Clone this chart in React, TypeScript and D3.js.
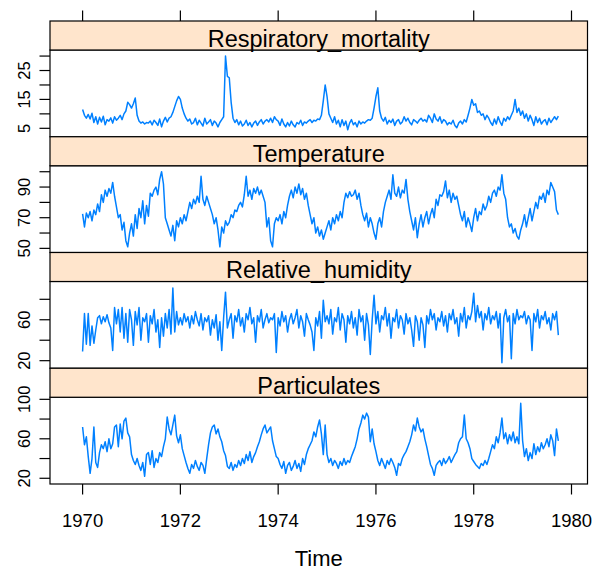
import React from "react";
import * as d3 from "d3";

// ---- data: biweekly readings, 1970.0 onward (26 per year) ----
const respiratory: number[] = [
  11.5, 9.5, 8.5, 9.8, 8.2, 10.2, 7.0, 9.0, 6.5, 8.8, 7.2, 9.2, 6.2, 8.0, 7.5, 8.6, 6.8, 9.0, 7.8, 8.5, 9.5, 8.0, 10.0, 11.0, 14.0, 13.2,
  12.0, 13.5, 15.5, 9.5, 7.5, 6.8, 7.2, 6.5, 7.0, 6.8, 7.5, 6.2, 7.8, 7.0, 6.0, 8.2, 5.5, 7.5, 8.8, 7.2, 8.5, 9.0, 10.5, 12.5, 14.5, 16.0,
  15.0, 12.0, 10.0, 8.5, 7.5, 8.2, 6.5, 7.0, 8.5, 6.2, 7.8, 6.8, 5.8, 8.5, 6.5, 7.2, 8.0, 6.0, 7.5, 6.8, 5.5, 7.0, 8.0, 9.0, 30.0, 23.0,
  22.5, 14.0, 8.5, 7.0, 8.0, 6.2, 7.5, 5.8, 6.5, 7.8, 6.0, 7.0, 5.5, 6.8, 7.5, 6.0, 7.2, 8.0, 6.5, 7.5, 8.0, 7.2, 8.5, 7.0, 9.0, 8.0,
  7.5, 6.0, 8.2, 6.5, 5.5, 7.0, 5.8, 7.5, 6.2, 5.5, 7.0, 6.5, 7.8, 6.0, 7.2, 6.8, 7.5, 8.0, 7.0, 7.8, 7.5, 8.2, 8.0, 9.5, 14.5, 20.0,
  16.0, 10.0, 8.5, 7.0, 9.0, 6.5, 7.8, 5.5, 8.0, 6.0, 7.5, 4.5, 6.8, 8.0, 6.2, 7.0, 5.5, 7.5, 6.5, 7.2, 6.8, 7.5, 8.0, 7.8, 8.5, 12.0,
  16.0, 19.0, 11.0, 8.5, 7.5, 8.8, 6.5, 7.8, 7.0, 8.2, 6.0, 7.5, 8.0, 6.5, 7.2, 9.0, 7.5, 8.5, 7.0, 6.2, 8.0, 7.5, 6.8, 7.8, 8.5, 7.5,
  8.0, 7.2, 9.5, 8.5, 7.0, 10.0, 8.2, 7.5, 9.0, 6.8, 8.0, 7.5, 6.2, 7.0, 6.5, 7.8, 6.0, 5.2, 6.8, 7.5, 6.5, 8.0, 7.2, 9.5, 12.0, 15.0,
  13.0, 13.5, 10.5, 11.0, 9.5, 10.0, 8.0, 9.5, 8.5, 7.0, 6.0, 8.2, 6.5, 9.0, 7.2, 6.0, 8.5, 7.5, 9.0, 8.0, 9.5, 11.0, 15.0, 10.5, 12.0, 9.5,
  11.0, 8.5, 10.0, 7.5, 9.5, 8.0, 6.0, 9.0, 7.0, 8.5, 6.5, 7.5, 8.0, 6.2, 8.5, 7.0, 8.0, 9.0, 8.0, 9.2,
];

const temperature: number[] = [
  72.5, 64, 73, 70, 74, 68, 75, 72, 79, 74, 85, 80, 88, 84, 89, 86, 93, 84, 77, 70, 72, 62, 67, 55, 51, 60,
  66, 58, 72, 63, 76, 70, 81, 66, 78, 71, 86, 84, 88, 90, 85, 95, 100, 92, 70, 66, 62, 58, 65, 55, 68, 64,
  70, 66, 72, 68, 74, 80, 76, 82, 79, 84, 80, 97, 82, 78, 84, 80, 76, 72, 66, 70, 62, 51, 64, 60, 68, 65,
  67, 72, 70, 75, 74, 78, 80, 77, 85, 97, 84, 88, 82, 89, 86, 90, 85, 88, 84, 80, 64, 70, 55, 51, 66, 70,
  68, 72, 66, 74, 70, 78, 84, 88, 83, 90, 86, 92, 85, 89, 82, 86, 78, 72, 66, 70, 60, 64, 58, 62, 56, 60,
  64, 68, 62, 70, 66, 72, 68, 74, 70, 80, 86, 83, 87, 84, 85, 88, 82, 86, 78, 72, 68, 73, 64, 70, 66, 60,
  56, 66, 70, 64, 74, 80, 84, 88, 82, 98, 86, 84, 90, 83, 88, 86, 95, 82, 74, 68, 62, 70, 57, 66, 72, 64,
  70, 74, 66, 72, 76, 70, 82, 78, 85, 84, 87, 94, 83, 88, 80, 86, 82, 84, 78, 72, 68, 74, 64, 70, 66, 61,
  70, 76, 68, 74, 72, 79, 75, 78, 84, 80, 86, 88, 84, 90, 88, 98, 86, 82, 70, 64, 66, 60, 63, 58, 56, 62,
  66, 72, 64, 70, 76, 68, 74, 80, 76, 84, 82, 86, 80, 88, 85, 93, 90, 87, 75, 72,
];

const humidity: number[] = [
  29, 66, 36, 66, 35, 54, 37, 50, 62, 64, 56, 63, 58, 65, 57, 52, 30, 72, 56, 70, 48, 72, 42, 66, 38, 70,
  60, 35, 68, 55, 72, 40, 62, 58, 66, 38, 64, 56, 70, 48, 60, 33, 62, 44, 66, 52, 70, 46, 91, 48, 68, 55,
  62, 55, 66, 58, 63, 52, 64, 56, 68, 60, 54, 66, 50, 62, 58, 64, 45, 60, 52, 65, 40, 58, 30, 62, 87, 52,
  60, 66, 42, 64, 58, 70, 54, 62, 48, 66, 60, 72, 56, 62, 38, 64, 58, 70, 52, 60, 66, 57, 62, 60, 66, 28,
  62, 54, 68, 58, 64, 48, 60, 66, 56, 62, 70, 52, 64, 58, 44, 66, 60, 55, 48, 30, 62, 54, 68, 42, 79, 58,
  64, 56, 70, 46, 62, 58, 72, 50, 66, 60, 38, 64, 56, 68, 52, 62, 45, 70, 58, 64, 40, 66, 55, 26, 60, 84,
  56, 68, 48, 64, 60, 72, 54, 66, 42, 62, 58, 70, 52, 64, 60, 46, 66, 56, 62, 50, 34, 64, 58, 40, 62, 55,
  33, 64, 56, 70, 60, 66, 50, 62, 58, 68, 54, 64, 48, 66, 60, 70, 56, 62, 44, 66, 58, 72, 52, 64, 60, 68,
  86, 58, 74, 62, 68, 50, 66, 60, 72, 56, 64, 60, 68, 52, 66, 18, 62, 70, 58, 64, 22, 66, 56, 70, 60, 64,
  62, 68, 56, 64, 60, 30, 66, 58, 70, 52, 64, 60, 68, 56, 62, 50, 66, 60, 68, 45,
];

const particulates: number[] = [
  72, 54, 62, 42, 25, 40, 72, 36, 31, 46, 54, 50, 57, 47, 60, 50, 55, 72, 74, 52, 75, 60, 78, 81, 66, 62,
  44, 38, 34, 40, 33, 28, 36, 22, 44, 46, 34, 48, 31, 40, 36, 46, 42, 52, 60, 82, 70, 64, 74, 84, 63, 56,
  64, 50, 43, 36, 30, 25, 34, 30, 38, 32, 28, 36, 33, 25, 40, 54, 66, 72, 74, 65, 70, 62, 57, 48, 43, 32,
  30, 36, 28, 34, 31, 38, 33, 40, 35, 44, 38, 47, 36, 42, 46, 52, 57, 64, 70, 74, 66, 69, 72, 58, 50, 42,
  40, 34, 30, 37, 25, 33, 36, 28, 32, 38, 30, 35, 27, 40, 34, 44, 50, 54, 58, 67, 62, 72, 79, 65, 44, 74,
  44, 36, 40, 33, 38, 35, 30, 37, 33, 40, 34, 38, 36, 42, 47, 52, 60, 70, 76, 84, 80, 86, 82, 57, 70, 55,
  47, 38, 33, 40, 35, 30, 38, 34, 40, 36, 31, 23, 35, 33, 40, 44, 47, 52, 57, 64, 74, 68, 81, 72, 67, 70,
  60, 52, 43, 34, 30, 23, 33, 36, 38, 33, 40, 35, 38, 42, 36, 40, 44, 47, 56, 60, 62, 84, 60, 56, 50, 40,
  37, 34, 32, 30, 35, 33, 38, 34, 40, 47, 54, 50, 62, 56, 66, 81, 60, 66, 55, 64, 58, 67, 56, 62, 55, 96,
  58, 42, 50, 38, 46, 40, 55, 44, 52, 47, 56, 50, 54, 60, 52, 64, 58, 43, 70, 58,
];

const stripNames = ["Respiratory_mortality", "Temperature", "Relative_humidity", "Particulates"];
const yTicks: number[][] = [
  [5, 10, 15, 20, 25, 30],
  [50, 60, 70, 80, 90, 100],
  [20, 40, 60, 80],
  [20, 40, 60, 80, 100],
];
const yTickLabels: number[][] = [
  [5, 15, 25],
  [50, 70, 90],
  [20, 60],
  [20, 60, 100],
];
const yLimits: [number, number][] = [
  [2.08, 32.1],
  [47.3, 103.9],
  [12.6, 97.4],
  [14.2, 102.1],
];
const xTicks = [1970, 1972, 1974, 1976, 1978, 1980];
const startYear = 1970;
const perYear = 26;

// ---- layout ----
const W = 592;
const H = 570;
const left = 50;
const right = 587.5;
const top = 21;
const stripH = 29;
const panelH = 86.75;
const blockH = stripH + panelH;
const bottom = top + 4 * blockH;
const font = "Arimo, 'Liberation Sans', Arial, Helvetica, sans-serif";
const lineColor = "#0080ff";
const stripFill = "#ffe5cc";

export default function App() {
  const series = [respiratory, temperature, humidity, particulates];
  const x = d3.scaleLinear().domain([1970, 1980]).range([82.6, 571.5]);

  return (
    <svg
      width={W}
      height={H}
      style={{ position: "absolute", left: 0, top: 0, background: "#fff" }}
      fontFamily={font}
    >
      <rect width={W} height={H} fill="#fff" />
      {series.map((vals, k) => {
        const sTop = top + k * blockH;
        const pTop = sTop + stripH;
        const pBot = pTop + panelH;
        const y = d3.scaleLinear().domain(yLimits[k]).range([pBot, pTop]);
        const line = d3
          .line<number>()
          .x((_, i) => x(startYear + i / perYear))
          .y((d) => y(d));
        return (
          <g key={k}>
            <rect x={left} y={pTop} width={right - left} height={panelH} fill="#fff" stroke="#000" strokeWidth={1.2} />
            <path d={line(vals) || ""} fill="none" stroke={lineColor} strokeWidth={1.5} strokeLinejoin="round" />
            <rect x={left} y={sTop} width={right - left} height={stripH} fill={stripFill} stroke="#000" strokeWidth={1.2} />
            <text x={(left + right) / 2} y={pTop - 3.3} textAnchor="middle" fontSize={23.5} fill="#000">
              {stripNames[k]}
            </text>
            {yTicks[k].map((t) => (
              <line key={t} x1={left - 10.5} x2={left} y1={y(t)} y2={y(t)} stroke="#000" strokeWidth={1.2} />
            ))}
            {yTickLabels[k].map((t) => (
              <text
                key={t}
                transform={`translate(${29.5},${y(t)}) rotate(-90)`}
                textAnchor="middle"
                fontSize={16.5}
                fill="#000"
              >
                {t}
              </text>
            ))}
          </g>
        );
      })}
      {xTicks.map((t) => (
        <g key={t}>
          <line x1={x(t)} x2={x(t)} y1={top - 10.5} y2={top} stroke="#000" strokeWidth={1.2} />
          <line x1={x(t)} x2={x(t)} y1={bottom} y2={bottom + 10.5} stroke="#000" strokeWidth={1.2} />
          <text x={x(t)} y={bottom + 43} textAnchor="middle" fontSize={18.5} fill="#000">
            {t}
          </text>
        </g>
      ))}
      <text x={(left + right) / 2} y={bottom + 82} textAnchor="middle" fontSize={22} fill="#000">
        Time
      </text>
    </svg>
  );
}
